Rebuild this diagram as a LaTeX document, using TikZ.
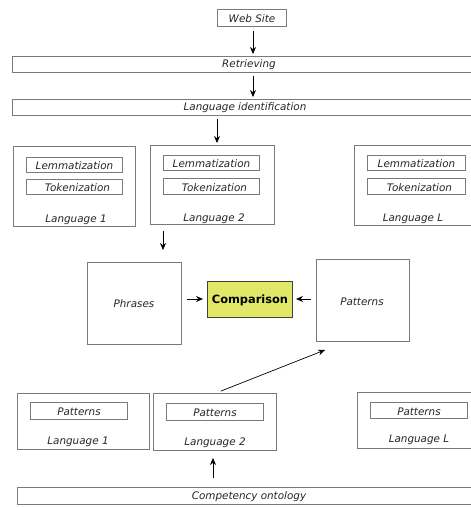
\documentclass[tikz,border=0pt]{standalone}
\usepackage{fontspec}
\setmainfont{DejaVu Sans}
\usetikzlibrary{arrows.meta}
\definecolor{cmpfill}{HTML}{E1E868}
\definecolor{edge}{HTML}{7A7A7A}
\begin{document}
\begin{tikzpicture}[x=1pt,y=-1pt,
  box/.style={draw=edge, line width=1pt, fill=white, inner sep=0pt, anchor=north west},
  txt/.style={inner sep=0pt, yshift=-0.8pt, font=\itshape\fontsize{10.4}{12}\selectfont, text=black!85},
  arr/.style={-{Stealth[length=7pt,width=6pt]}, black, line width=0.7pt}]
\useasboundingbox (0,0) rectangle (471,507);
\clip (0,0) rectangle (471,507);
% top chain
\node[box, minimum width=69, minimum height=17] (web) at (217,9) {};
\node[txt] at (web.center) {Web Site};
\node[box, minimum width=480, minimum height=16] (retr) at (12,56) {};
\node[txt] at (249,64) {Retrieving};
\node[box, minimum width=480, minimum height=16] (lid) at (12,99) {};
\node[txt] at (245,107) {Language identification};
% language boxes
\node[box, minimum width=122, minimum height=80] (l1) at (13,146) {};
\node[box, minimum width=96, minimum height=15] (l1lem) at (26,157) {};
\node[txt] at (l1lem.center) {Lemmatization};
\node[box, minimum width=96, minimum height=15] (l1tok) at (26,179) {};
\node[txt] at ([xshift=3pt]l1tok.center) {Tokenization};
\node[txt] at (76,219) {Language 1};
\node[box, minimum width=124, minimum height=79] (l2) at (150,145) {};
\node[box, minimum width=96, minimum height=15] (l2lem) at (163,155) {};
\node[txt] at (l2lem.center) {Lemmatization};
\node[box, minimum width=96, minimum height=16] (l2tok) at (163,178) {};
\node[txt] at ([xshift=3pt]l2tok.center) {Tokenization};
\node[txt] at (214,218) {Language 2};
\node[box, minimum width=130, minimum height=80] (lL) at (354,145) {};
\node[box, minimum width=98, minimum height=15] (lLlem) at (367,155) {};
\node[txt] at (lLlem.center) {Lemmatization};
\node[box, minimum width=98, minimum height=16] (lLtok) at (367,178) {};
\node[txt] at ([xshift=3pt]lLtok.center) {Tokenization};
\node[txt] at (413,218) {Language L};
% middle
\node[box, minimum width=94, minimum height=82] (phr) at (87,262) {};
\node[txt] at (134,303) {Phrases};
\node[box, draw=black!75, fill=cmpfill, minimum width=85, minimum height=36] (cmp) at (207,281) {};
\node[inner sep=0pt, yshift=-0.5pt, font=\bfseries\fontsize{11.4}{13}\selectfont] at (cmp.center) {Comparison};
\node[box, minimum width=93, minimum height=82] (pat) at (316,259) {};
\node[txt] at (362,301) {Patterns};
% bottom language boxes
\node[box, minimum width=132, minimum height=56] (b1) at (17,393) {};
\node[box, minimum width=97, minimum height=17] (b1p) at (30,402) {};
\node[txt] at (b1p.center) {Patterns};
\node[txt] at (78,441) {Language 1};
\node[box, minimum width=123, minimum height=57] (b2) at (153,393) {};
\node[box, minimum width=97, minimum height=17] (b2p) at (166,403) {};
\node[txt] at (b2p.center) {Patterns};
\node[txt] at (215,442) {Language 2};
\node[box, minimum width=130, minimum height=56] (bL) at (357,392) {};
\node[box, minimum width=97, minimum height=16] (bLp) at (370,402) {};
\node[txt] at (bLp.center) {Patterns};
\node[txt] at (419,439) {Language L};
\node[box, minimum width=480, minimum height=17] (ont) at (17,487) {};
\node[txt] at (249,496) {Competency ontology};
% connectors
\draw[arr, shorten <=4pt, shorten >=2pt] (253,0 |- web.south) -- (253,0 |- retr.north);
\draw[arr, shorten <=3pt, shorten >=2pt] (253,0 |- retr.south) -- (253,0 |- lid.north);
\draw[arr, shorten <=3pt, shorten >=2pt] (217,0 |- lid.south) -- (217,0 |- l2.north);
\draw[arr, shorten <=6pt, shorten >=12pt] (163,0 |- l2.south) -- (163,0 |- phr.north);
\draw[arr, shorten <=5pt, shorten >=4pt] (phr.east |- 0,299) -- (cmp.west |- 0,299);
\draw[arr, shorten <=5pt, shorten >=3pt] (pat.west |- 0,299) -- (cmp.east |- 0,299);
\draw[arr, shorten <=5pt] ([xshift=63pt]b2.north west) -- ([xshift=9pt,yshift=-8pt]pat.south west);
\draw[arr, shorten <=9pt, shorten >=7pt] (213,0 |- ont.north) -- (213,0 |- b2.south);
\end{tikzpicture}
\end{document}
